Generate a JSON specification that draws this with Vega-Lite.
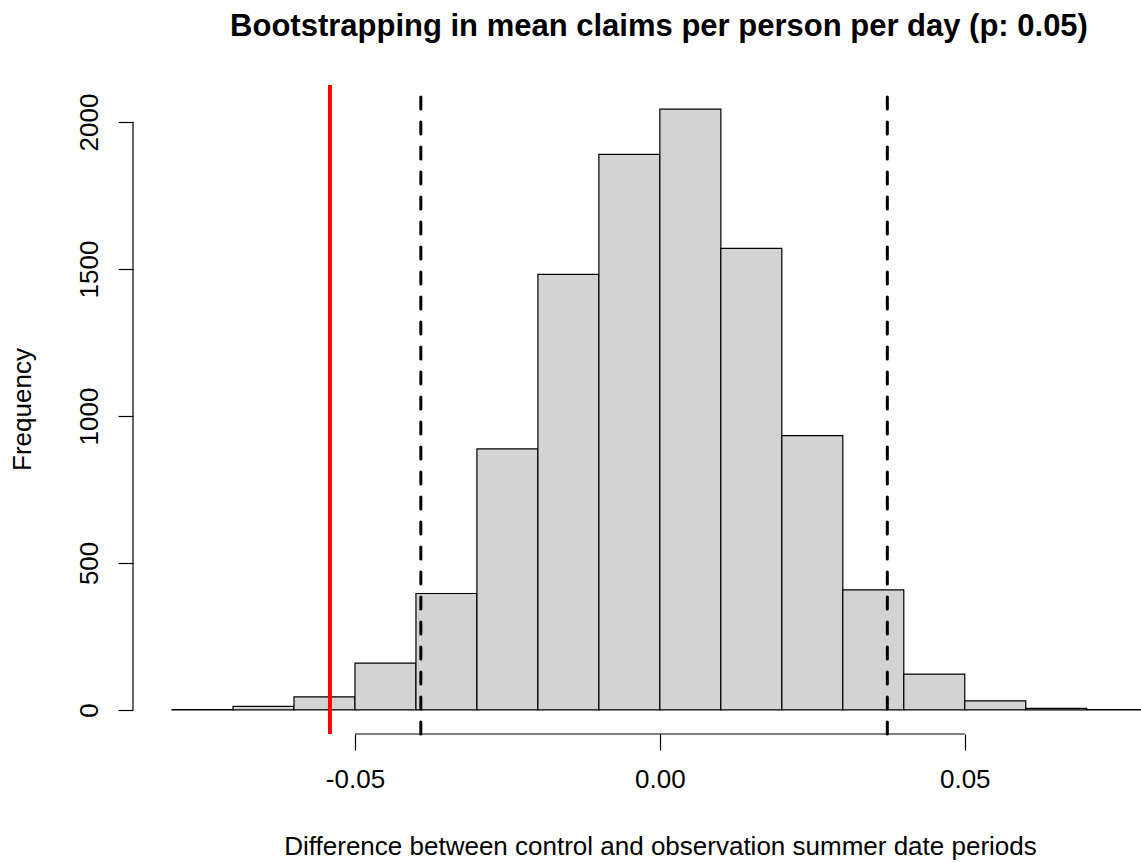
{
  "$schema": "https://vega.github.io/schema/vega-lite/v6.json",
  "width": 1008,
  "height": 649,
  "autosize": "none",
  "padding": {"left": 133, "top": 85, "right": 0, "bottom": 128},
  "background": "white",
  "title": {
    "text": "Bootstrapping in mean claims per person per day (p: 0.05)",
    "font": "Liberation Sans",
    "fontSize": 31,
    "fontWeight": "bold",
    "color": "black",
    "anchor": "middle",
    "frame": "group",
    "dx": 22,
    "offset": 16,
    "baseline": "alphabetic"
  },
  "config": {"view": {"stroke": null}, "font": "Liberation Sans"},
  "datasets": {
    "bins": [
      {"lo": -0.08, "hi": -0.07, "count": 1},
      {"lo": -0.07, "hi": -0.06, "count": 12},
      {"lo": -0.06, "hi": -0.05, "count": 44},
      {"lo": -0.05, "hi": -0.04, "count": 159},
      {"lo": -0.04, "hi": -0.03, "count": 396},
      {"lo": -0.03, "hi": -0.02, "count": 888},
      {"lo": -0.02, "hi": -0.01, "count": 1482},
      {"lo": -0.01, "hi": 0.0, "count": 1890},
      {"lo": 0.0, "hi": 0.01, "count": 2044},
      {"lo": 0.01, "hi": 0.02, "count": 1570},
      {"lo": 0.02, "hi": 0.03, "count": 933},
      {"lo": 0.03, "hi": 0.04, "count": 408},
      {"lo": 0.04, "hi": 0.05, "count": 122},
      {"lo": 0.05, "hi": 0.06, "count": 31},
      {"lo": 0.06, "hi": 0.07, "count": 5},
      {"lo": 0.07, "hi": 0.08, "count": 1}
    ],
    "observed": [{"diff": -0.0541}],
    "interval": [{"diff": -0.0392}, {"diff": 0.0373}],
    "xaxisline": [{"from": -0.05, "to": 0.05, "level": -82}],
    "yaxisline": [{"from": 0, "to": 2000, "at": -0.0864}]
  },
  "layer": [
    {
      "data": {"name": "bins"},
      "mark": {"type": "rect", "fill": "#D3D3D3", "stroke": "black", "strokeWidth": 1.2, "clip": true},
      "encoding": {
        "x": {
          "field": "lo",
          "type": "quantitative",
          "scale": {"domain": [-0.0864, 0.0789], "nice": false, "zero": false},
          "axis": {
            "title": "Difference between control and observation summer date periods",
            "values": [-0.05, 0, 0.05],
            "labelExpr": "replace(format(datum.value, '.2f'), '\u2212', '-')",
            "domain": false,
            "grid": false,
            "ticks": true,
            "tickSize": 16,
            "tickColor": "black",
            "tickWidth": 1.2,
            "labelFont": "Liberation Sans",
            "labelFontSize": 26,
            "labelColor": "black",
            "labelPadding": 16,
            "labelFlush": false,
            "titleFont": "Liberation Sans",
            "titleFontSize": 26,
            "titleFontWeight": "normal",
            "titleColor": "black",
            "titleX": 527,
            "titleY": 120,
            "titleAnchor": "middle",
            "titleAlign": "center",
            "titleBaseline": "alphabetic"
          }
        },
        "x2": {"field": "hi"},
        "y": {
          "field": "count",
          "type": "quantitative",
          "scale": {"domain": [-82, 2126], "nice": false, "zero": false},
          "axis": {
            "title": "Frequency",
            "values": [0, 500, 1000, 1500, 2000],
            "format": "d",
            "domain": false,
            "grid": false,
            "tickSize": 15,
            "tickColor": "black",
            "tickWidth": 1.2,
            "labelAngle": -90,
            "labelAlign": "center",
            "labelBaseline": "alphabetic",
            "labelPadding": 21,
            "labelFont": "Liberation Sans",
            "labelFontSize": 26,
            "labelColor": "black",
            "labelFlush": false,
            "titleFont": "Liberation Sans",
            "titleFontSize": 26,
            "titleFontWeight": "normal",
            "titleColor": "black",
            "titleAngle": -90,
            "titleX": -103,
            "titleY": 324,
            "titleAlign": "center",
            "titleBaseline": "alphabetic"
          }
        },
        "y2": {"datum": 0}
      }
    },
    {
      "data": {"name": "xaxisline"},
      "mark": {"type": "rule", "color": "black", "strokeWidth": 1.2},
      "encoding": {
        "x": {"field": "from", "type": "quantitative"},
        "x2": {"field": "to"},
        "y": {"field": "level", "type": "quantitative"}
      }
    },
    {
      "data": {"name": "yaxisline"},
      "mark": {"type": "rule", "color": "black", "strokeWidth": 1.2},
      "encoding": {
        "y": {"field": "from", "type": "quantitative"},
        "y2": {"field": "to"},
        "x": {"field": "at", "type": "quantitative"}
      }
    },
    {
      "data": {"name": "interval"},
      "mark": {"type": "rule", "color": "black", "strokeWidth": 3, "strokeDash": [12, 13], "strokeCap": "round"},
      "encoding": {
        "x": {"field": "diff", "type": "quantitative"},
        "y": {"datum": -82, "type": "quantitative"},
        "y2": {"datum": 2126}
      }
    },
    {
      "data": {"name": "observed"},
      "mark": {"type": "rule", "color": "#FF0000", "strokeWidth": 4},
      "encoding": {
        "x": {"field": "diff", "type": "quantitative"},
        "y": {"datum": -82, "type": "quantitative"},
        "y2": {"datum": 2126}
      }
    }
  ]
}
